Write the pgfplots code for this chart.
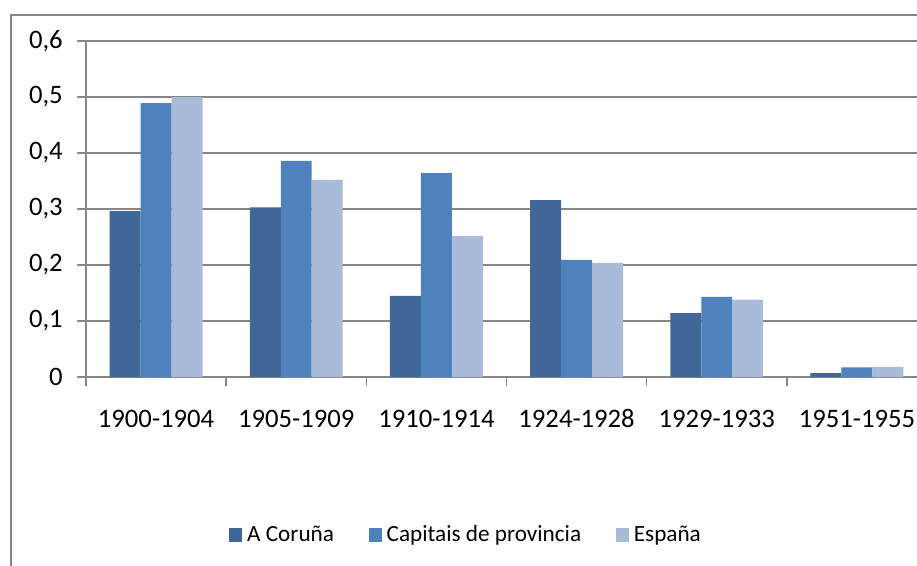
\documentclass[border=0pt]{standalone}
\usepackage{pgfplots}
\pgfplotsset{compat=1.18}
\usepackage{fontspec}
\setmainfont{Carlito}
\definecolor{cA}{HTML}{3F6898}
\definecolor{cB}{HTML}{4F81BD}
\definecolor{cC}{HTML}{AABAD9}
\definecolor{gr}{HTML}{868686}
\begin{document}
\begin{tikzpicture}[x=0.75pt,y=0.75pt]
\useasboundingbox (0,0) rectangle (917,565);
\clip (0,0) rectangle (917,565);
\fill[white] (0,0) rectangle (917,565);
\draw[gr, line width=1.5pt] (11,-20) rectangle (1000,550);
\begin{axis}[
  at={(64.5pt,141pt)}, anchor=south west,
  scale only axis, width=630.75pt, height=252pt,
  xmin=-0.5, xmax=5.5, ymin=0, ymax=0.6,
  axis x line*=bottom, axis y line*=left,
  axis line style={gr, line width=1.1pt, -},
  ymajorgrids, grid style={gr, line width=1.1pt},
  ytick={0,0.1,0.2,0.3,0.4,0.5,0.6},
  yticklabels={0,{0,1},{0,2},{0,3},{0,4},{0,5},{0,6}},
  xtick={0,1,2,3,4,5},
  xticklabels={1900-1904,1905-1909,1910-1914,1924-1928,1929-1933,1951-1955},
  minor xtick={-0.5,0.5,1.5,2.5,3.5,4.5,5.5},
  major x tick style={draw=none},
  tick align=outside,
  tick style={gr, line width=1.1pt},
  major tick length=6.75pt, minor tick length=6.75pt,
  xticklabel style={font=\fontsize{20}{23}\selectfont, anchor=base, inner sep=0pt, yshift=-30.75pt},
  yticklabel style={font=\fontsize{20}{23}\selectfont, anchor=east, inner sep=0pt, xshift=-10.5pt},
  ybar=0pt, bar width=0.221,
  legend columns=-1,
  legend style={draw=none, fill=none, at={(rel axis cs:0.4507,-0.470)}, anchor=center,
    font=\fontsize{17.4}{21}\selectfont, nodes={inner sep=0pt},
    /tikz/every odd column/.style={column sep=3.75pt},
    /tikz/every even column/.style={column sep=26pt}},
  legend image code/.code={\fill[#1] (0pt,-5.2pt) rectangle (9.75pt,5.2pt);},
]
\addplot[fill=cA, draw=none, bar shift=-0.221] coordinates {(0,0.296) (1,0.303) (2,0.145) (3,0.316) (4,0.114) (5,0.007)};
\addplot[fill=cB, draw=none, bar shift=0] coordinates {(0,0.489) (1,0.386) (2,0.364) (3,0.209) (4,0.143) (5,0.017)};
\addplot[fill=cC, draw=none, bar shift=0.221] coordinates {(0,0.500) (1,0.352) (2,0.252) (3,0.204) (4,0.138) (5,0.018)};
\legend{A Coruña, Capitais de provincia, España}
\end{axis}
\end{tikzpicture}
\end{document}
